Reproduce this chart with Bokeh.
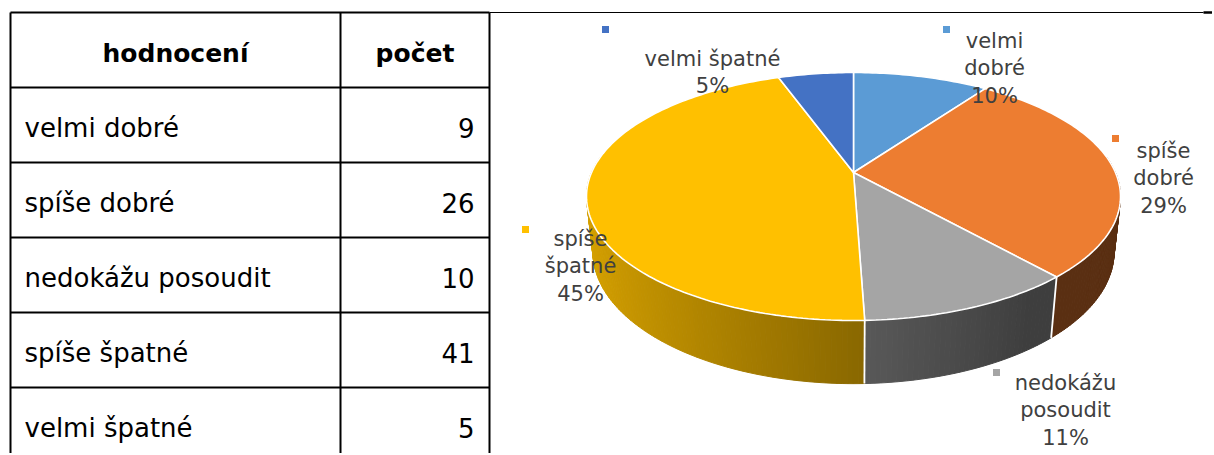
import math
from bokeh.plotting import figure
from bokeh.models import Range1d, ColumnDataSource
from bokeh.core.properties import value
from bokeh.embed import file_html
from bokeh.resources import INLINE

# ---------------- data ----------------
header = ["hodnocení", "počet"]
categories = ["velmi dobré", "spíše dobré", "nedokážu posoudit", "spíše špatné", "velmi špatné"]
counts = [9, 26, 10, 41, 5]
pie_labels = ["velmi\ndobré", "spíše\ndobré", "nedokážu\nposoudit", "spíše\nšpatné", "velmi špatné"]
colors = ["#5B9BD5", "#ED7D31", "#A5A5A5", "#FFC000", "#4472C4"]

# ---------------- layout constants ----------------
W, H = 1212, 453
FONT = "DejaVu Sans"
p = figure(width=W, height=H, x_range=Range1d(0, W), y_range=Range1d(H, 0),
           output_backend="svg", toolbar_location=None, min_border=0,
           x_axis_location=None, y_axis_location=None)
p.grid.visible = False
p.outline_line_color = None
p.background_fill_color = "white"
p.border_fill_color = "white"

# ---------------- table ----------------
TL, TR, COLX, TOP, ROWH = 10, 489, 340, 12, 75
nrows = len(categories) + 1
hx0, hx1, hy = [], [], []
for i in range(nrows + 1):
    hx0.append(TL); hx1.append(TR); hy.append(TOP + i * ROWH)
p.segment(x0=hx0, y0=hy, x1=hx1, y1=hy, line_color="black", line_width=2)
vx = [TL, COLX, TR]
p.segment(x0=vx, y0=[TOP] * 3, x1=vx, y1=[TOP + nrows * ROWH] * 3, line_color="black", line_width=2)
# top rule continuing over the chart area
p.segment(x0=[TR], y0=[TOP], x1=[1203], y1=[TOP], line_color="black", line_width=1.2)
p.segment(x0=[1203], y0=[TOP], x1=[1214], y1=[TOP], line_color="black", line_width=2.5)

p.text(x=[(TL + COLX) / 2, (COLX + TR) / 2], y=[TOP + 41] * 2, text=header,
       text_align="center", text_baseline="alphabetic", text_font=value(FONT),
       text_font_style="bold", text_font_size="25px", text_color="black")
row_y = [TOP + (i + 1) * ROWH + 40 for i in range(len(categories))]
p.text(x=[TL + 14] * len(categories), y=row_y, text=categories, text_align="left",
       text_baseline="alphabetic", text_font=value(FONT), text_font_size="26px", text_color="black")
p.text(x=[TR - 15] * len(counts), y=row_y, text=[str(c) for c in counts], text_align="right",
       text_baseline="alphabetic", text_font=value(FONT), text_font_size="26px", text_color="black")

# ---------------- 3D pie (perspective projection) ----------------
CX, CY = 853, 172
PHI = math.radians(27.1)
SPHI, CPHI = math.sin(PHI), math.cos(PHI)
DIST, FOC, THICK = 4.6, 1205.0, 0.24


def proj(theta, z):
    th = math.radians(theta)
    X, Y = math.sin(th), math.cos(th)
    yc = Y * SPHI + z * CPHI
    d = DIST + Y * CPHI - z * SPHI
    return CX + FOC * X / d, CY - FOC * yc / d


def shade(hexc, f):
    r, g, b = int(hexc[1:3], 16), int(hexc[3:5], 16), int(hexc[5:7], 16)
    return "#%02x%02x%02x" % (int(r * f), int(g * f), int(b * f))


total = sum(counts)
bounds = [0.0]
for c in counts:
    bounds.append(bounds[-1] + 360.0 * c / total)

# side walls
quads = []
for i, c in enumerate(counts):
    a0, a1 = bounds[i], bounds[i + 1]
    n = max(1, int(math.ceil(a1 - a0)))
    for k in range(n):
        t0 = a0 + (a1 - a0) * k / n
        t1 = a0 + (a1 - a0) * (k + 1) / n
        tm = 0.5 * (t0 + t1)
        if math.cos(math.radians(tm)) > 0.15:
            continue
        f = max(0.38, 0.55 + 0.30 * math.cos(math.radians(tm - 270)))
        pts = [proj(t0, 0), proj(t1, 0), proj(t1, -THICK), proj(t0, -THICK)]
        quads.append((math.cos(math.radians(tm)), [q[0] for q in pts], [q[1] for q in pts],
                      shade(colors[i], f)))
quads.sort(key=lambda q: -q[0])
wsrc = ColumnDataSource(dict(xs=[q[1] for q in quads], ys=[q[2] for q in quads],
                             col=[q[3] for q in quads]))
p.patches("xs", "ys", source=wsrc, fill_color="col", line_color="col", line_width=1)

# white edges between wall sections
ex0, ey0, ex1, ey1 = [], [], [], []
for a in bounds[:-1]:
    if math.cos(math.radians(a)) < -0.2:
        x0, y0 = proj(a, 0)
        x1, y1 = proj(a, -THICK)
        ex0.append(x0); ey0.append(y0); ex1.append(x1); ey1.append(y1)
p.segment(x0=ex0, y0=ey0, x1=ex1, y1=ey1, line_color="white", line_width=1.8)

# top faces
txs, tys = [], []
for i, c in enumerate(counts):
    a0, a1 = bounds[i], bounds[i + 1]
    n = max(2, int(math.ceil((a1 - a0) / 1.0)))
    xs, ys = [CX], [CY]
    for k in range(n + 1):
        x, y = proj(a0 + (a1 - a0) * k / n, 0)
        xs.append(x); ys.append(y)
    txs.append(xs); tys.append(ys)
p.patches(xs=txs, ys=tys, fill_color=colors, line_color="white", line_width=1.6)

# ---------------- data labels ----------------
lab_pos = [(994, 40), (1163, 150), (1065, 382), (580, 238), (712, 58)]
key_pos = [(946, 29), (1115, 138), (996, 372), (525, 229), (605, 29)]
LSP = 27.5
lx, ly, lt = [], [], []
for i, c in enumerate(counts):
    pct = "%d%%" % round(100.0 * c / total)
    lines = pie_labels[i].split("\n") + [pct]
    for j, ln in enumerate(lines):
        lx.append(lab_pos[i][0]); ly.append(lab_pos[i][1] + j * LSP); lt.append(ln)
p.text(x=lx, y=ly, text=lt, text_align="center", text_baseline="alphabetic",
       text_font=value(FONT), text_font_size="21px", text_color="#404040")
p.scatter(x=[k[0] for k in key_pos], y=[k[1] for k in key_pos], marker="square", size=7,
          fill_color=colors, line_color=None)

open("out.html", "w").write(file_html(p, INLINE))
